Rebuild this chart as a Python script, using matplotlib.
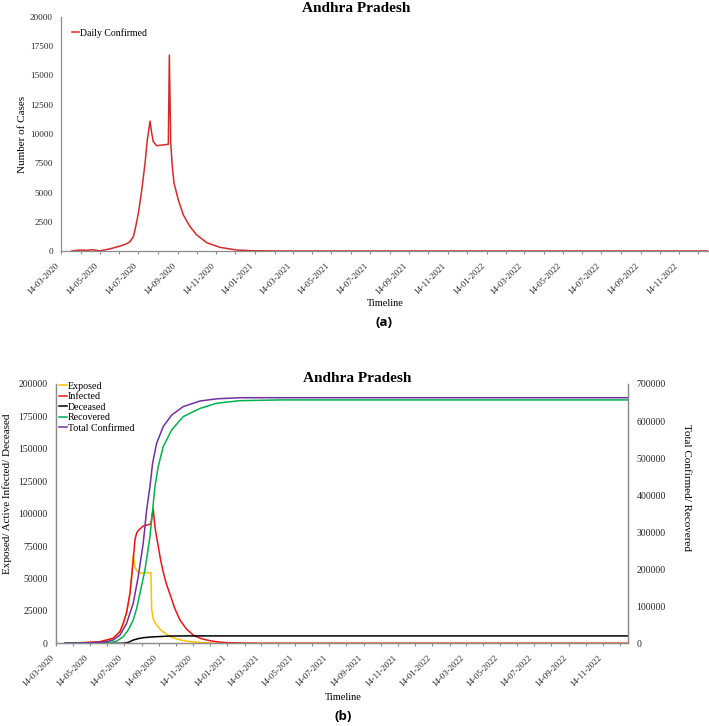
import pandas as pd
import matplotlib
matplotlib.use('Agg')
import matplotlib.pyplot as plt
import matplotlib.dates as mdates

plt.rcParams['font.family'] = ['Liberation Serif', 'DejaVu Serif']

start = pd.Timestamp('2020-03-14')
end = pd.Timestamp('2022-12-29')

# (a) daily confirmed, x = days since 14-03-2020
daily_days = [17, 30, 41, 50, 61, 77, 93, 103, 108.8, 114, 116.7, 121.9, 127.3, 132.5, 136.1, 140.4,
              143, 145.6, 150.9, 169.2, 170.8, 173, 175.5, 178.2, 185, 192.9, 203.4, 214, 229.8,
              250.7, 277, 303, 345, 1020]
daily_cases = [0, 80, 60, 110, 10, 180, 420, 600, 800, 1220, 1800, 3200, 5200, 7500, 9500, 11100,
               10060, 9340, 9000, 9120, 16750, 9200, 7200, 5800, 4360, 3080, 2080, 1370, 710,
               310, 85, 20, 0, 0]

# (b) model compartments, x = days since 14-03-2020
exp_days = [17, 40, 79, 102.5, 114.4, 120.3, 126.4, 132.3, 136, 138, 140, 142, 146, 153, 168, 169.6,
            171, 173.7, 177, 182.6, 189, 197.6, 205, 215, 225, 235, 257, 290, 1020]
exp_vals = [0, 300, 1200, 3900, 9000, 15000, 24000, 38000, 55000, 68000, 62000, 58000, 55000, 54000,
            54500, 54500, 26000, 19000, 16000, 12500, 9500, 7000, 5000, 3500, 2300, 1500, 600, 0, 0]

inf_days = [17, 40, 79, 102.5, 114.4, 120.3, 126.4, 132.3, 138.1, 141.2, 144.2, 147, 155.9, 167.9,
            169.6, 173.7, 176.8, 179.7, 182.6, 187, 191.5, 197, 203.5, 212, 221.3, 233, 246, 260,
            275, 290, 305, 330, 364, 1020]
inf_vals = [0, 300, 1200, 3900, 9000, 15400, 24000, 38600, 64000, 80000, 85000, 87000, 90500, 91800,
            92500, 103600, 90000, 82000, 75000, 64000, 55000, 46000, 38000, 27000, 18000, 11000, 6000,
            3500, 2000, 1000, 500, 200, 0, 0]

dec_days = [17, 118, 124, 130, 138, 147, 156, 168, 180, 203, 230, 1020]
dec_vals = [0, 0, 300, 800, 2500, 3600, 4300, 4800, 5100, 5600, 5700, 5700]

rec_days = [17, 60, 96.7, 108.6, 120.3, 129.2, 138.1, 144.2, 150.1, 159, 167.9, 170.9, 176.8, 182.6,
            191.5, 206.5, 227.2, 256.9, 286.6, 328, 400, 1020]
rec_vals = [0, 100, 1600, 6000, 17800, 36000, 63000, 94000, 135000, 198000, 288000, 333000, 423000,
            477000, 531000, 576000, 612000, 634000, 648000, 655000, 657000, 657000]

tot_days = [17, 40, 78.9, 90.7, 102.5, 114.4, 126.4, 132, 138.1, 147, 155.9, 162, 167.9, 172.6,
            179.8, 191.5, 206.5, 227.2, 256.9, 286.6, 330, 1020]
tot_vals = [0, 300, 2700, 4300, 9000, 22000, 54000, 80000, 108000, 180000, 270000, 360000, 423000,
            486000, 540000, 585000, 616000, 639000, 654000, 660000, 663000, 663000]


def to_dates(days):
    return start + pd.to_timedelta(days, unit='D')


W, H = 709, 726
fig = plt.figure(figsize=(W / 100, H / 100), dpi=100)
gray = '#8c8c8c'
tick_col = '#262626'


def style_xaxis(ax):
    ax.set_xlim(start, end)
    ax.xaxis.set_major_locator(mdates.MonthLocator(bymonth=[1, 3, 5, 7, 9, 11], bymonthday=14))
    ax.xaxis.set_minor_locator(mdates.MonthLocator(bymonthday=14))
    ax.xaxis.set_major_formatter(mdates.DateFormatter('%d-%m-%Y'))
    ax.tick_params(axis='x', which='both', direction='out', length=2.5, width=0.8,
                   color=gray, labelsize=6.3, labelcolor=tick_col, pad=5)
    for lab in ax.get_xticklabels():
        lab.set_rotation(45)
        lab.set_ha('right')


# ---------- (a) ----------
ax = fig.add_axes([61 / W, 1 - 251 / H, 647 / W, 234 / H])
ax.plot(to_dates(daily_days), daily_cases, color='#D22B2B', lw=1.1, label='Daily Confirmed')
ax.set_ylim(0, 20000)
ax.set_yticks(range(0, 20001, 2500))
ax.tick_params(axis='y', length=0, labelsize=6.6, labelcolor=tick_col, pad=5.8)
style_xaxis(ax)
for s in ['top', 'right']:
    ax.spines[s].set_visible(False)
for s in ['left', 'bottom']:
    ax.spines[s].set_color(gray)
    ax.spines[s].set_linewidth(0.9)
ax.legend(loc='upper left', bbox_to_anchor=(0.017, 0.953), frameon=False, fontsize=7,
          handlelength=0.7, handletextpad=0.1, borderpad=0, borderaxespad=0)
fig.text(22.5 / W, 1 - 134 / H, 'Number of Cases', rotation=90, ha='center', va='center', fontsize=8)
fig.text(385 / W, 1 - 304 / H, 'Timeline', ha='center', va='center', fontsize=7.5)
fig.text(356 / W, 1 - 8 / H, 'Andhra Pradesh', ha='center', va='center', fontsize=11, fontweight='bold')
fig.text(384 / W, 1 - 323 / H, '(a)', ha='center', va='center', fontsize=9.5, fontweight='bold',
         family=['Open Sans', 'DejaVu Sans'])

# ---------- (b) ----------
bx = fig.add_axes([55.7 / W, 1 - 643.3 / H, 572.6 / W, 259.3 / H])
bx2 = bx.twinx()
l1, = bx.plot(to_dates(exp_days), exp_vals, color='#FFC000', lw=1.1, label='Exposed')
l2, = bx.plot(to_dates(inf_days), inf_vals, color='#E8141B', lw=1.1, label='Infected')
l3, = bx.plot(to_dates(dec_days), dec_vals, color='#000000', lw=1.1, label='Deceased')
l4, = bx2.plot(to_dates(rec_days), rec_vals, color='#00B050', lw=1.1, label='Recovered')
l5, = bx2.plot(to_dates(tot_days), tot_vals, color='#7030A0', lw=1.1, label='Total Confirmed')
bx.set_ylim(0, 200000)
bx.set_yticks(range(0, 200001, 25000))
bx2.set_ylim(0, 700000)
bx2.set_yticks(range(0, 700001, 100000))
bx.tick_params(axis='y', length=0, labelsize=7, labelcolor=tick_col, pad=5.8)
bx2.tick_params(axis='y', length=0, labelsize=7, labelcolor=tick_col, pad=5.8)
style_xaxis(bx)
for a in (bx, bx2):
    a.spines['top'].set_visible(False)
    for s in ['left', 'bottom', 'right']:
        a.spines[s].set_color(gray)
        a.spines[s].set_linewidth(0.9)
bx2.legend(handles=[l1, l2, l3, l4, l5], loc='upper left', bbox_to_anchor=(0.006, 1.008),
           frameon=False, fontsize=7.2, handlelength=0.75, handletextpad=0.1,
           labelspacing=0.14, borderpad=0, borderaxespad=0)
fig.text(7.5 / W, 1 - 494 / H, 'Exposed/ Active Infected/ Deceased', rotation=90,
         ha='center', va='center', fontsize=8)
fig.text(687 / W, 1 - 488 / H, 'Total Confirmed/ Recovered', rotation=-90,
         ha='center', va='center', fontsize=8)
fig.text(343 / W, 1 - 698 / H, 'Timeline', ha='center', va='center', fontsize=7.5)
fig.text(357 / W, 1 - 378 / H, 'Andhra Pradesh', ha='center', va='center', fontsize=11, fontweight='bold')
fig.text(343 / W, 1 - 716 / H, '(b)', ha='center', va='center', fontsize=9.5, fontweight='bold',
         family=['Open Sans', 'DejaVu Sans'])

fig.savefig('out.png', dpi=100, facecolor='white')
